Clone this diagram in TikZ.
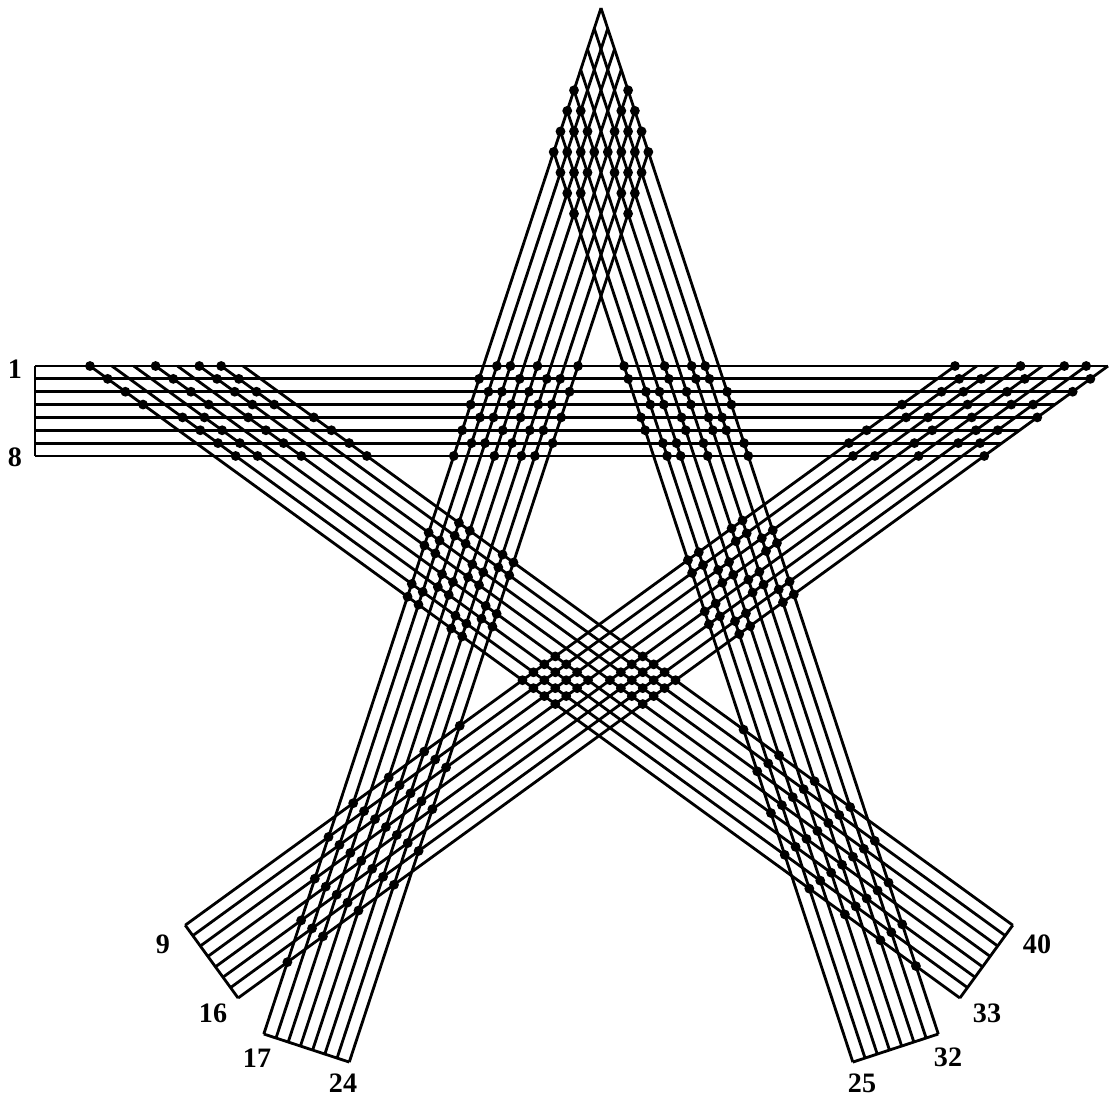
\documentclass[tikz,border=0pt]{standalone}
\usepackage{fontspec}
\setmainfont{Liberation Serif}
\usetikzlibrary{calc}

% dots where the chosen bits of the two line indices agree
\newcommand\knots[5]{% #1,#2 = first line of each band, #3,#4 = bit masks, #5 = offset
  \foreach \ii in {0,...,7}{
    \foreach \jj in {0,...,7}{
      \pgfmathtruncatemacro\odd{mod(bd(\ii,#3)+bd(\jj,#4)+#5,2)}
      \pgfmathtruncatemacro\la{#1+\ii}
      \pgfmathtruncatemacro\lb{#2+\jj}
      \ifnum\odd=0
        \fill (intersection of \la s--\la e and \lb s--\lb e) circle (2.8pt);
      \fi
    }
  }
}

\begin{document}
\begin{tikzpicture}[x=0.02cm, y=-0.02cm,
    declare function={bd(\x,\m)=mod(\x,2)*mod(\m,2)+mod(floor(\x/2),2)*mod(floor(\m/2),2)+floor(\x/4)*floor(\m/4);},
    wire/.style={line width=1.6pt},
    num/.style={font=\fontsize{16}{16}\selectfont\bfseries}]
\useasboundingbox (0,0) rectangle (1109,1099);

% band 1-8, horizontal
\foreach \a in {0,...,7}{
  \pgfmathtruncatemacro\k{\a+1}
  \coordinate (\k s) at (35,{366+12.85*\a});
  \coordinate (\k e) at ({1108-17.69*\a},{366+12.85*\a});
}
% band 9-16, up to the right
\foreach \a in {0,...,7}{
  \pgfmathtruncatemacro\k{\a+9}
  \coordinate (\k s) at ({238.1-7.553*(7-\a)},{998-10.40*(7-\a)});
  \coordinate (\k e) at ({1108-21.86*(7-\a)},366);
}
% band 17-24, up to the top
\foreach \a in {0,...,7}{
  \pgfmathtruncatemacro\k{\a+17}
  \coordinate (\k s) at ({263.8+12.21*\a},{1034+4.01*\a});
  \coordinate (\k e) at ({601+6.76*\a},{8+20.57*\a});
}
% band 25-32, down from the top
\foreach \a in {0,...,7}{
  \pgfmathtruncatemacro\k{\a+25}
  \coordinate (\k s) at ({601-6.76*(7-\a)},{8+20.57*(7-\a)});
  \coordinate (\k e) at ({938.3-12.21*(7-\a)},{1034+4.01*(7-\a)});
}
% band 33-40, up to the left
\foreach \a in {0,...,7}{
  \pgfmathtruncatemacro\k{\a+33}
  \coordinate (\k s) at ({959.9+7.553*\a},{998-10.40*\a});
  \coordinate (\k e) at ({90+21.86*\a},366);
}

% the lines and the caps
\foreach \k in {1,...,40}
  \draw[wire] (\k s) -- (\k e);
\draw[wire] (1s) -- (8s);
\draw[wire] (9s) -- (16s);
\draw[wire] (17s) -- (24s);
\draw[wire] (25e) -- (32e);
\draw[wire] (33s) -- (40s);

% crossings
\knots{1}{9}{7}{7}{0}
\knots{1}{17}{1}{7}{1}
\knots{1}{25}{2}{7}{0}
\knots{1}{33}{4}{7}{0}
\knots{17}{25}{4}{4}{0}
\knots{9}{33}{4}{4}{0}
\knots{9}{17}{1}{1}{1}
\knots{25}{33}{1}{1}{1}
\knots{17}{33}{2}{2}{0}
\knots{25}{9}{2}{2}{0}

% line numbers
\node[num] (n1) at (15,369) {1};
\node[num] (n8) at (15,457) {8};
\node[num] (n9) at (163,944) {9};
\node[num] (n16) at (213,1013) {16};
\node[num] (n17) at (257,1058) {17};
\node[num] (n24) at (343,1083) {24};
\node[num] (n25) at (862,1083) {25};
\node[num] (n32) at (948,1057) {32};
\node[num] (n33) at (987,1013) {33};
\node[num] (n40) at (1037,944) {40};
\end{tikzpicture}
\end{document}
